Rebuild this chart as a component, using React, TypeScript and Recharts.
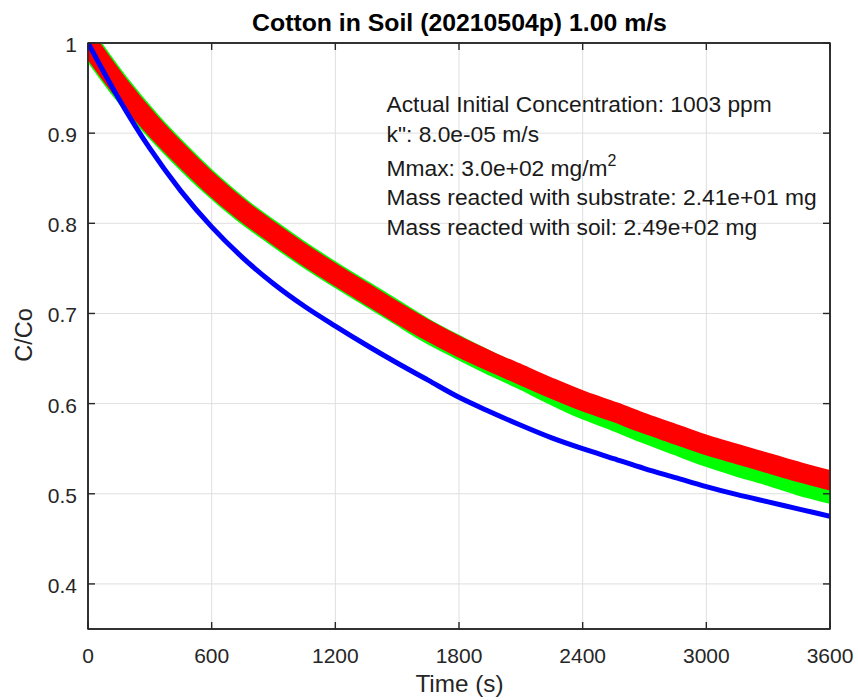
import React from "react";
import { LineChart, Line, XAxis, YAxis, CartesianGrid, ReferenceArea } from "recharts";

// ---- data ----
const TIME_S = [
  0, 150, 300, 450, 600, 750, 900, 1050, 1200, 1350, 1500, 1650, 1800,
  1950, 2100, 2250, 2400, 2550, 2700, 2850, 3000, 3150, 3300, 3450, 3600,
];
const MEASURED_RED = [
  1.0, 0.953, 0.912, 0.876, 0.843, 0.814, 0.789, 0.765, 0.743, 0.722, 0.701,
  0.681, 0.663, 0.647, 0.632, 0.617, 0.603, 0.591, 0.578, 0.566, 0.554, 0.544,
  0.534, 0.524, 0.515,
];
const MEASURED_GREEN = [
  1.0, 0.953, 0.912, 0.876, 0.843, 0.814, 0.789, 0.765, 0.743, 0.722, 0.701,
  0.68, 0.662, 0.645, 0.629, 0.612, 0.596, 0.583, 0.569, 0.556, 0.543, 0.532,
  0.522, 0.511, 0.502,
];
const MODEL_BLUE = [
  1.0, 0.938, 0.883, 0.836, 0.796, 0.762, 0.733, 0.708, 0.686, 0.665, 0.645,
  0.626, 0.607, 0.591, 0.576, 0.562, 0.55, 0.539, 0.528, 0.518, 0.508, 0.499,
  0.491, 0.483, 0.475,
];
const X_DOMAIN = [0, 3600];
const Y_DOMAIN = [0.35, 1];
const X_TICKS = [0, 600, 1200, 1800, 2400, 3000, 3600];
const Y_TICKS = [0.4, 0.5, 0.6, 0.7, 0.8, 0.9, 1];
const TITLE = "Cotton in Soil (20210504p) 1.00 m/s";
const X_LABEL = "Time (s)";
const Y_LABEL = "C/Co";
const INFO_LINES = [
  "Actual Initial Concentration: 1003 ppm",
  "k\": 8.0e-05 m/s",
  "Mmax: 3.0e+02 mg/m",
  "Mass reacted with substrate: 2.41e+01 mg",
  "Mass reacted with soil: 2.49e+02 mg",
];

const data = TIME_S.map((t, i) => ({
  t,
  green: MEASURED_GREEN[i],
  red: MEASURED_RED[i],
  blue: MODEL_BLUE[i],
}));

const AXIS = "#262626";
const GRID = "#dfdfdf";
const FONT = '"Liberation Sans", Arial, Helvetica, sans-serif';
const W = 858;
const H = 700;

const fmtY = (v: number) => (v === 1 ? "1" : v.toFixed(1));

function BottomTick(props: any) {
  const { x, y, payload } = props;
  return (
    <g>
      <path d={`M${x},${y}V${y - 7}`} stroke={AXIS} strokeWidth={1.4} fill="none" />
      <text x={x} y={y + 34} textAnchor="middle" fontSize={21} fontFamily={FONT} fill={AXIS}>
        {payload.value}
      </text>
    </g>
  );
}
function TopTick(props: any) {
  const { x, y } = props;
  return <path d={`M${x},${y}V${y + 7}`} stroke={AXIS} strokeWidth={1.4} fill="none" />;
}
function LeftTick(props: any) {
  const { x, y, payload } = props;
  return (
    <g>
      <path d={`M${x},${y}H${x + 7}`} stroke={AXIS} strokeWidth={1.4} fill="none" />
      <text x={x - 11} y={y + 9} textAnchor="end" fontSize={21} fontFamily={FONT} fill={AXIS}>
        {fmtY(payload.value)}
      </text>
    </g>
  );
}
function RightTick(props: any) {
  const { x, y } = props;
  return <path d={`M${x},${y}H${x - 7}`} stroke={AXIS} strokeWidth={1.4} fill="none" />;
}

export default function App() {
  const infoBaselines = [112, 142, 176, 205, 235];
  return (
    <div style={{ position: "relative", width: W, height: H, background: "#fff" }}>
      <style>{"html,body{margin:0;padding:0;overflow:hidden;background:#fff}"}</style>
      <LineChart
        width={W}
        height={H}
        data={data}
        margin={{ top: 42, right: 27, left: 0, bottom: 0 }}
      >
        <CartesianGrid stroke={GRID} strokeWidth={1} />
        <XAxis
          dataKey="t"
          type="number"
          domain={X_DOMAIN}
          ticks={X_TICKS}
          interval={0}
          allowDataOverflow
          height={71}
          tickSize={0}
          tickMargin={0}
          tickLine={false}
          stroke={AXIS}
          axisLine={{ stroke: AXIS, strokeWidth: 1.5 }}
          tick={BottomTick}
        />
        <XAxis
          xAxisId="top"
          orientation="top"
          dataKey="t"
          type="number"
          domain={X_DOMAIN}
          ticks={X_TICKS}
          interval={0}
          allowDataOverflow
          height={1}
          tickSize={0}
          tickMargin={0}
          tickLine={false}
          stroke={AXIS}
          axisLine={{ stroke: AXIS, strokeWidth: 1.5 }}
          tick={TopTick}
        />
        <YAxis
          type="number"
          domain={Y_DOMAIN}
          ticks={Y_TICKS}
          interval={0}
          allowDataOverflow
          width={88}
          tickSize={0}
          tickMargin={0}
          tickLine={false}
          stroke={AXIS}
          axisLine={{ stroke: AXIS, strokeWidth: 1.5 }}
          tick={LeftTick}
        />
        <YAxis
          yAxisId="right"
          orientation="right"
          type="number"
          domain={Y_DOMAIN}
          ticks={Y_TICKS}
          interval={0}
          allowDataOverflow
          width={1}
          tickSize={0}
          tickMargin={0}
          tickLine={false}
          stroke={AXIS}
          axisLine={{ stroke: AXIS, strokeWidth: 1.5 }}
          tick={RightTick}
        />
        <Line
          dataKey="green"
          type="monotone"
          stroke="#00ff00"
          strokeWidth={23}
          strokeLinecap="round"
          strokeLinejoin="round"
          dot={false}
          activeDot={false}
          isAnimationActive={false}
        />
        <Line
          dataKey="red"
          type="monotone"
          stroke="#ff0000"
          strokeWidth={20}
          strokeLinecap="round"
          strokeLinejoin="round"
          dot={false}
          activeDot={false}
          isAnimationActive={false}
        />
        <Line
          dataKey="blue"
          type="monotone"
          stroke="#0000ff"
          strokeWidth={5}
          dot={false}
          activeDot={false}
          isAnimationActive={false}
        />
        <ReferenceArea
          x1={X_DOMAIN[0]}
          x2={X_DOMAIN[1]}
          y1={Y_DOMAIN[0]}
          y2={Y_DOMAIN[1]}
          ifOverflow="visible"
          fill="none"
          fillOpacity={0}
          stroke={AXIS}
          strokeWidth={1.5}
          strokeOpacity={1}
        />
      </LineChart>
      <svg
        width={W}
        height={H}
        style={{ position: "absolute", left: 0, top: 0, pointerEvents: "none" }}
      >
        <text x={459.5} y={31} textAnchor="middle" fontSize={24.8} fontWeight="bold" fontFamily={FONT} fill="#000">
          {TITLE}
        </text>
        <text x={459.5} y={692} textAnchor="middle" fontSize={24.3} fontFamily={FONT} fill={AXIS}>
          {X_LABEL}
        </text>
        <text
          x={0}
          y={0}
          transform="translate(31.5 335) rotate(-90)"
          textAnchor="middle"
          fontSize={23.5}
          fontFamily={FONT}
          fill={AXIS}
        >
          {Y_LABEL}
        </text>
        {INFO_LINES.map((s, i) => (
          <text key={i} x={386.5} y={infoBaselines[i]} fontSize={22.8} fontFamily={FONT} fill="#1a1a1a">
            {s}
            {i === 2 ? (
              <tspan dy={-10} fontSize={16}>
                2
              </tspan>
            ) : null}
          </text>
        ))}
      </svg>
    </div>
  );
}
